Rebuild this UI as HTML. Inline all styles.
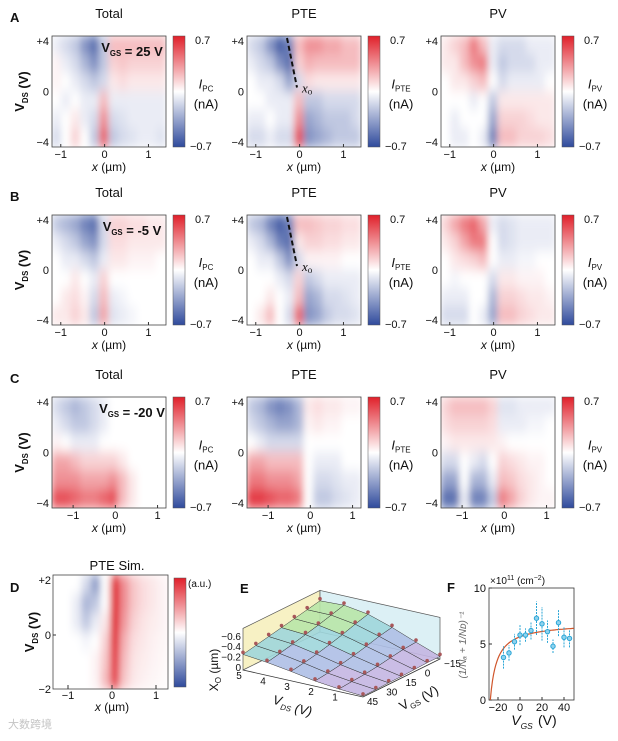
<!DOCTYPE html>
<html><head><meta charset="utf-8"><style>
body{margin:0;background:#fff;}
svg{display:block;font-family:"Liberation Sans",Arial,sans-serif;}
text{fill:#111;}
</style></head><body>
<svg id="fig" width="618" height="741" viewBox="0 0 618 741" xmlns="http://www.w3.org/2000/svg">
<defs>
<filter id="blur" x="0" y="0" width="1" height="1"><feGaussianBlur stdDeviation="3.5 6" edgeMode="duplicate"/></filter>
<linearGradient id="cbar" x1="0" y1="1" x2="0" y2="0">
<stop offset="0" stop-color="#2f4a9c"/><stop offset="0.5" stop-color="#ffffff"/><stop offset="1" stop-color="#e0202a"/></linearGradient>
</defs>
</svg>
<script>
// heatmap grids: rows from +V (top) to -V (bottom), columns left to right
const aTotal=[[-0.1,-0.2,-0.3,-0.6,-0.8,-0.3,0.3,0.3,0.3,0.3,0.3,0.3],[0.05,-0.1,-0.2,-0.4,-0.6,-0.3,0.2,0.25,0.2,0.2,0.2,0.2],[0.05,0,-0.1,-0.2,-0.3,-0.2,0.1,0.15,0.1,0.1,0.1,0.1],[0,-0.1,0,-0.1,-0.1,0.3,-0.1,-0.1,-0.1,-0.1,-0.1,-0.1],[-0.1,0,0.1,-0.1,-0.2,0.5,-0.2,-0.15,-0.1,-0.1,-0.1,-0.1],[-0.2,0,0.2,0,-0.3,0.7,-0.3,-0.2,-0.15,-0.1,-0.1,-0.15]];
const aPTE=[[-0.2,-0.3,-0.6,-0.9,-0.7,0.3,0.5,0.5,0.4,0.4,0.3,0.3],[-0.1,-0.2,-0.3,-0.6,-0.8,0.2,0.35,0.3,0.3,0.3,0.3,0.3],[0,-0.1,-0.1,-0.2,-0.5,-0.2,0.15,0.1,0.1,0.1,0.1,0.1],[0,0,-0.1,-0.1,-0.1,0.3,-0.3,-0.3,-0.2,-0.2,-0.2,-0.2],[-0.1,-0.1,0,-0.1,-0.1,0.5,-0.5,-0.4,-0.3,-0.3,-0.3,-0.2],[-0.2,-0.2,-0.1,-0.2,-0.2,0.8,-0.6,-0.5,-0.4,-0.3,-0.3,-0.3]];
const aPV=[[0.1,0.2,0.3,0.6,0.3,-0.1,-0.2,-0.2,-0.2,-0.1,-0.1,-0.1],[0.1,0.1,0.3,0.5,0.6,-0.1,-0.3,-0.2,-0.2,-0.2,-0.1,-0.1],[0,0.1,0.1,0.2,0.3,0,-0.2,-0.1,-0.1,-0.1,-0.1,0],[0,0,0,-0.1,0,-0.3,0.1,0.1,0.1,0.1,0.1,0.1],[0,-0.1,0,0,0,-0.5,0.2,0.2,0.2,0.15,0.1,0.1],[0,-0.1,-0.1,0,-0.1,-0.7,0.3,0.3,0.2,0.2,0.2,0.15]];
const bTotal=[[-0.3,-0.4,-0.5,-0.7,-0.8,-0.2,0.2,0.2,0.15,0.15,0.1,0.1],[-0.1,-0.2,-0.3,-0.5,-0.6,-0.2,0.15,0.15,0.1,0.1,0.1,0.1],[0,-0.1,-0.1,-0.2,-0.3,-0.1,0.1,0.1,0.05,0.05,0.05,0],[0,0,0.1,0,-0.1,0.2,0,0,0,0,0,0],[0,0.1,0.15,0.05,-0.2,0.3,-0.1,-0.05,0,0,0,0],[0.1,0.1,0.2,0.1,-0.3,0.4,-0.15,-0.1,-0.05,0,0,0]];
const bPTE=[[-0.3,-0.4,-0.7,-0.9,-0.7,0.3,0.3,0.25,0.2,0.2,0.15,0.15],[-0.1,-0.2,-0.4,-0.7,-0.8,0.1,0.2,0.2,0.15,0.15,0.1,0.1],[0,-0.1,-0.1,-0.3,-0.6,-0.2,0.05,0.05,0.05,0.05,0,0],[0,0,0,-0.1,-0.2,0.2,-0.3,-0.2,-0.1,-0.1,-0.1,-0.1],[0,0,0.1,0,-0.1,0.3,-0.5,-0.4,-0.2,-0.2,-0.15,-0.1],[0,0.1,0.3,0,-0.2,0.7,-0.6,-0.5,-0.3,-0.2,-0.2,-0.15]];
const bPV=[[0.2,0.4,0.6,0.7,0.4,-0.1,-0.2,-0.15,-0.1,-0.1,-0.1,-0.1],[0.1,0.2,0.4,0.6,0.6,0,-0.2,-0.15,-0.1,-0.1,-0.1,-0.1],[0,0.1,0.15,0.2,0.3,0,-0.1,-0.1,-0.05,-0.05,0,0],[0,-0.05,0,0,0,-0.2,0.1,0.1,0.05,0.05,0.05,0],[-0.1,-0.1,-0.1,0,0,-0.4,0.2,0.2,0.15,0.1,0.1,0.05],[-0.2,-0.2,-0.2,0,-0.1,-0.5,0.3,0.3,0.2,0.15,0.1,0.1]];
const cTotal=[[-0.2,-0.3,-0.4,-0.3,-0.2,-0.1,0,0,0,0,0,0],[-0.1,-0.2,-0.3,-0.3,-0.2,-0.1,0,0,0,0,0,0],[0.05,0,-0.1,-0.1,-0.1,0,0,0,0,0,0,0],[0.4,0.4,0.3,0.2,0.2,0.2,0.2,0.1,0,0,0,0],[0.5,0.5,0.5,0.4,0.4,0.4,0.5,0.3,0.1,0,0,0],[0.8,0.8,0.7,0.6,0.6,0.7,0.8,0.3,0.1,0,0,0]];
const cPTE=[[-0.3,-0.4,-0.6,-0.7,-0.6,-0.4,0.1,0.15,0.1,0.1,0.05,0.05],[-0.2,-0.3,-0.4,-0.5,-0.5,-0.4,0.05,0.1,0.05,0.05,0,0],[0,-0.1,-0.2,-0.2,-0.2,-0.2,0,0,0,0,0,0],[0.4,0.4,0.3,0.3,0.3,0.3,0,-0.1,-0.1,-0.1,0,0],[0.6,0.6,0.5,0.5,0.5,0.4,0,-0.2,-0.2,-0.15,-0.1,-0.1],[0.9,0.9,0.8,0.7,0.7,0.6,0,-0.3,-0.3,-0.2,-0.15,-0.1]];
const cPV=[[0.2,0.3,0.3,0.3,0.3,0.2,-0.15,-0.15,-0.1,-0.1,-0.1,-0.1],[0.15,0.2,0.2,0.2,0.2,0.15,-0.1,-0.1,-0.1,-0.05,-0.05,0],[0.05,0.1,0.1,0.1,0.1,0.1,0.05,0,0,0,0,0],[-0.2,-0.2,0,-0.1,-0.2,0,0.2,0.15,0.1,0.05,0.05,0],[-0.5,-0.5,0,-0.4,-0.4,-0.1,0.3,0.25,0.15,0.1,0.05,0],[-0.8,-0.8,-0.1,-0.7,-0.7,-0.3,0.6,0.4,0.2,0.1,0.05,0.05]];
const dSim=[[0,0,0,-0.2,-0.55,0,1,0.5,0.25,0.15,0.1,0.05],[0,0,-0.1,-0.4,-0.3,0,1,0.5,0.25,0.15,0.1,0.05],[0,0,-0.1,-0.3,-0.1,0.1,1,0.45,0.2,0.12,0.08,0.05],[0,0,0,-0.05,0,0.2,0.95,0.35,0.15,0.1,0.06,0.04],[0,0,0,0,0.05,0.25,0.9,0.3,0.12,0.08,0.05,0.03],[0,0,0,0,0.05,0.3,0.85,0.25,0.1,0.06,0.04,0.02]];
// panel F data
const fVgs=[-15,-10,-5,0,5,10,15,20,25,30,35,40,45];
const fDens=[3.8,4.2,5.2,5.8,5.8,6.2,7.3,6.8,6.1,4.8,6.9,5.6,5.5];
const fErr=[1.0,0.7,0.7,0.9,0.6,0.8,1.5,1.5,1.0,0.6,1.2,0.9,0.8];
const fXTicks=[-20,0,20,40];
const fYTicks=[0,5,10];
// panel E surface heights (x0, µm): rows VDS 5..0, cols VGS -15..45
const eVds=[5,4,3,2,1,0];
const eVgs=[-15,-5,5,15,25,35,45];
const eZ=[[0.6,0.55,0.5,0.45,0.4,0.35,0.3],[0.62,0.55,0.48,0.42,0.36,0.3,0.25],[0.55,0.48,0.4,0.33,0.27,0.22,0.18],[0.4,0.35,0.28,0.22,0.17,0.13,0.1],[0.22,0.2,0.16,0.12,0.09,0.07,0.05],[0.05,0.05,0.04,0.03,0.03,0.02,0.02]];

const NS='http://www.w3.org/2000/svg';
const svg=document.getElementById('fig');
function mk(tag,attrs,parent){const e=document.createElementNS(NS,tag);for(const k in attrs)e.setAttribute(k,attrs[k]);(parent||svg).appendChild(e);return e;}
function txt(x,y,s,size,anchor,parent,extra){const t=mk('text',Object.assign({x:x,y:y,'font-size':size,'text-anchor':anchor||'middle'},extra||{}),parent);t.textContent=s;return t;}
function col(v){v=Math.max(-1,Math.min(1,v));let r,g,b;if(v>=0){r=255+(224-255)*v;g=255+(32-255)*v;b=255+(42-255)*v;}else{const a=-v;r=255+(47-255)*a;g=255+(74-255)*a;b=255+(156-255)*a;}return `rgb(${r|0},${g|0},${b|0})`;}

function heatmap(name,grid,x,y,w,h){
  const g=mk('g',{});
  
  
  const clipId='c'+name;
  const cp=mk('clipPath',{id:clipId},g);mk('rect',{x:x,y:y,width:w,height:h},cp);
  const inner=mk('g',{'clip-path':`url(#${clipId})`},g);
  const bl=mk('g',{filter:'url(#blur)'},inner);
  const nr=grid.length,nc=grid[0].length;
  for(let i=0;i<nr;i++)for(let j=0;j<nc;j++){
    const r=mk('rect',{x:x+j*w/nc-0.5,y:y+i*h/nr-0.5,width:w/nc+1,height:h/nr+1,fill:col(grid[i][j])},bl);
    
    
  }
  mk('rect',{x:x,y:y,width:w,height:h,fill:'none',stroke:'#444','stroke-width':0.8},g);
  return g;
}
function sub(parent,x,y,main,subs,size,bold){
  const t=mk('text',{x:x,y:y,'font-size':size,'text-anchor':'middle','font-weight':bold?'bold':'normal'},parent);
  t.appendChild(document.createTextNode(main));
  const ts=mk('tspan',{'font-size':size*0.6,dy:size*0.3},t);ts.textContent=subs;
  return t;
}
function colorbar(name,x,y,h,lab,unit){
  const g=mk('g',{});
  
  
  mk('rect',{x:x,y:y,width:12,height:h,fill:'url(#cbar)',stroke:'#555','stroke-width':0.5},g);
  if(lab!==null){
    txt(x+22,y+8,'0.7',11,'start',g);
    txt(x+17,y+h+3,'\u22120.7',11,'start',g);
    const t=mk('text',{x:x+33,y:y+h/2-3,'font-size':13,'text-anchor':'middle'},g);
    t.appendChild(document.createTextNode('I'));t.setAttribute('font-style','italic');
    const ts=mk('tspan',{'font-size':8,dy:3,'font-style':'normal'},t);ts.textContent=lab;
    txt(x+33,y+h/2+17,unit,13,'middle',g);
  } else txt(x+14,y+9,'(a.u.)',10,'start',g);
}
const rows=[{y:36,h:111,letter:'A',grids:[aTotal,aPTE,aPV],vgs:'25 V',xt:[-1,0,1]},{y:215,h:110,letter:'B',grids:[bTotal,bPTE,bPV],vgs:'-5 V',xt:[-1,0,1]},{y:397,h:111,letter:'C',grids:[cTotal,cPTE,cPV],vgs:'-20 V',xt:[-1,0,1]}];
const cols=[{x:52,t:'Total',l:'PC'},{x:247,t:'PTE',l:'PTE'},{x:441,t:'PV',l:'PV'}];
const xMin=[-1.2,-1.5],xMax=[1.4,1.2];
rows.forEach((r,ri)=>{
  txt(10,r.y-14,r.letter,13,'start',null,{'font-weight':'bold'});
  cols.forEach((c,ci)=>{
    const w=114;
    txt(c.x+w/2,r.y-18,c.t,13);
    heatmap(`heatmap-${r.letter.toLowerCase()}-${c.t.toLowerCase()}`,r.grids[ci],c.x,r.y,w,r.h);
    colorbar(`colorbar-${r.letter.toLowerCase()}-${c.t.toLowerCase()}`,c.x+w+7,r.y,r.h,c.l,'(nA)');
    const lo=ri==2?xMin[1]:xMin[0],hi=ri==2?xMax[1]:xMax[0];
    const sx=v=>c.x+(v-lo)/(hi-lo)*w;
    r.xt.forEach(v=>{mk('line',{x1:sx(v),x2:sx(v),y1:r.y+r.h,y2:r.y+r.h-3,stroke:'#333'});txt(sx(v),r.y+r.h+11,v<0?'\u2212'+(-v):String(v),11);});
    const sy=v=>r.y+r.h/2-v/4.4*(r.h/2);
    [4,0,-4].forEach(v=>{txt(c.x-3,sy(v)+4,v>0?'+4':(v<0?'\u22124':'0'),11,'end');});
    const xl=mk('text',{x:c.x+w/2,y:r.y+r.h+24,'font-size':12,'text-anchor':'middle'});
    const xi=mk('tspan',{'font-style':'italic'},xl);xi.textContent='x';xl.appendChild(document.createTextNode(' (\u00b5m)'));
    if(ci==0){
      const g=mk('g',{transform:`translate(24,${r.y+r.h/2}) rotate(-90)`});
      const t=sub(g,0,0,'V','DS',13,true);t.appendChild(document.createTextNode(' (V)'));
      const lab=sub(svg,c.x+80,r.y+16,'V','GS',13,true);lab.appendChild(document.createTextNode(' = '+r.vgs));
    }
    if(ci==1&&ri<2){
      mk('line',{x1:c.x+40,y1:r.y+2,x2:c.x+50,y2:r.y+r.h/2-4,stroke:'#111','stroke-width':2,'stroke-dasharray':'5 3'});
      const t=mk('text',{x:c.x+55,y:r.y+r.h/2+1,'font-size':13,'font-family':'Liberation Serif','font-style':'italic'});t.textContent='x';
      const s=mk('tspan',{'font-size':9,dy:2,'font-style':'normal'},t);s.textContent='o';
    }
  });
});
// Panel D
txt(10,592,'D',13,'start',null,{'font-weight':'bold'});
txt(117,570,'PTE Sim.',13);
heatmap('heatmap-d-sim',dSim,53,575,115,114);
colorbar('colorbar-d',174,578,109,null);
{const sx=v=>112+v*44;[-1,0,1].forEach(v=>{mk('line',{x1:sx(v),x2:sx(v),y1:689,y2:685,stroke:'#333'});txt(sx(v),699,v<0?'\u22121':String(v),11);});
txt(51,584,'+2',11,'end');txt(51,639,'0',11,'end');txt(51,693,'\u22122',11,'end');
mk('line',{x1:53,x2:56,y1:635,y2:635,stroke:'#333'});
const xl=mk('text',{x:112,y:711,'font-size':12,'text-anchor':'middle'});const xi=mk('tspan',{'font-style':'italic'},xl);xi.textContent='x';xl.appendChild(document.createTextNode(' (\u00b5m)'));
const g=mk('g',{transform:'translate(34,632) rotate(-90)'});const t=sub(g,0,0,'V','DS',13,true);t.appendChild(document.createTextNode(' (V)'));}
// Panel E
txt(240,593,'E',13,'start',null,{'font-weight':'bold'});
{const ge=mk('g',{});
 const P=(vds,vgs,z)=>{const a=(5-vds)/5,b=(45-vgs)/60;return [243+a*120+b*77,670+a*27-b*38-z*52];};
 const f=p=>p[0].toFixed(1)+','+p[1].toFixed(1);
 mk('polygon',{points:`${f(P(5,45,0))} ${f(P(5,-15,0))} ${f(P(5,-15,0.8))} ${f(P(5,45,0.8))}`,fill:'#f7f1c4',stroke:'#555','stroke-width':0.7},ge);
 mk('polygon',{points:`${f(P(5,-15,0))} ${f(P(0,-15,0))} ${f(P(0,-15,0.8))} ${f(P(5,-15,0.8))}`,fill:'#dcf0f5',stroke:'#555','stroke-width':0.7},ge);
 mk('polyline',{points:`${f(P(5,45,0))} ${f(P(0,45,0))} ${f(P(0,-15,0))}`,fill:'none',stroke:'#333','stroke-width':0.8},ge);
 const zc=z=>{const s=[[0,'#c4b6e2'],[0.15,'#aebfe6'],[0.3,'#9fd6dc'],[0.45,'#b8e6a8'],[0.6,'#f5eaa0']];for(let k=s.length-1;k>=0;k--)if(z>=s[k][0])return s[k][1];return s[0][1];};
 for(let j=eVgs.length-2;j>=0;j--)for(let i=0;i<eVds.length-1;i++){
   const pts=[P(eVds[i],eVgs[j],eZ[i][j]),P(eVds[i+1],eVgs[j],eZ[i+1][j]),P(eVds[i+1],eVgs[j+1],eZ[i+1][j+1]),P(eVds[i],eVgs[j+1],eZ[i][j+1])];
   const zm=(eZ[i][j]+eZ[i+1][j]+eZ[i+1][j+1]+eZ[i][j+1])/4;
   const q=mk('polygon',{points:pts.map(f).join(' '),fill:zc(zm),'fill-opacity':0.9,stroke:'#333','stroke-width':0.5},ge);
   
 }
 for(let i=0;i<eVds.length;i++)for(let j=0;j<eVgs.length;j++){const p=P(eVds[i],eVgs[j],eZ[i][j]+0.04);const c=mk('circle',{cx:p[0],cy:p[1],r:1.8,fill:'#a8575a'},ge);}
 [0,-0.2,-0.4,-0.6].forEach(v=>txt(241,668-(-v)*52+3,v==0?'0':String(v).replace('-','\u2212'),10,'end',ge));
 [5,4,3,2,1].forEach(v=>{const p=P(v,45,0);txt(p[0]-4,p[1]+9,String(v),10,'middle',ge);});
 [45,30,15,0,-15].forEach(v=>{const p=P(0,v,0);txt(p[0]+4,p[1]+8,String(v).replace('-','\u2212'),10,'start',ge);});
 const g1=mk('g',{transform:'translate(218,670) rotate(-90)'},ge);const t1=mk('text',{x:0,y:0,'font-size':12,'text-anchor':'middle'},g1);t1.textContent='X';const s1=mk('tspan',{'font-size':8,dy:3},t1);s1.textContent='O';const s2=mk('tspan',{dy:-3},t1);s2.textContent=' (\u00b5m)';
 const g2=mk('g',{transform:'translate(292,708) rotate(12)'},ge);const t2=sub(g2,0,0,'V','DS',13,false);t2.setAttribute('font-style','italic');t2.appendChild(document.createTextNode(' (V)'));
 const g3=mk('g',{transform:'translate(420,700) rotate(-32)'},ge);const t3=sub(g3,0,0,'V','GS',13,false);t3.appendChild(document.createTextNode(' (V)'));
}
// Panel F
txt(447,592,'F',13,'start',null,{'font-weight':'bold'});
{const gf=mk('g',{});
 const L=489,R=574,T=588,B=700;const sx=v=>520+v*1.1;const sy=v=>B-v/10*(B-T);
 mk('rect',{x:L,y:T,width:R-L,height:B-T,fill:'none',stroke:'#333','stroke-width':0.8},gf);
 fXTicks.forEach(v=>{mk('line',{x1:sx(v),x2:sx(v),y1:B,y2:B-3,stroke:'#333'},gf);txt(sx(v),B+11,v<0?'\u2212'+(-v):String(v),11,'middle',gf);});
 fYTicks.forEach(v=>{mk('line',{x1:L,x2:L+3,y1:sy(v),y2:sy(v),stroke:'#333'},gf);txt(L-3,sy(v)+4,String(v),11,'end',gf);});
 let d='';for(let x=-27;x<=49;x+=1){const y=6.9*(x+27)/(x+33);d+=(x==-27?'M':'L')+sx(x).toFixed(1)+','+sy(y).toFixed(1);}
 mk('path',{d:d,fill:'none',stroke:'#d0562c','stroke-width':1.2},gf);
 fVgs.forEach((v,i)=>{mk('line',{x1:sx(v),x2:sx(v),y1:sy(fDens[i]-fErr[i]),y2:sy(fDens[i]+fErr[i]),stroke:'#2aa6d6','stroke-dasharray':'2 1'},gf);
  const c=mk('circle',{cx:sx(v),cy:sy(fDens[i]),r:2.2,fill:'#8fd2ee',stroke:'#2aa6d6'},gf);});
 const tt=mk('text',{x:490,y:584,'font-size':10},gf);tt.textContent='\u00d710';const s=mk('tspan',{'font-size':7,dy:-4},tt);s.textContent='11';const s2=mk('tspan',{dy:4,'font-size':10},tt);s2.textContent=' (cm';const s3=mk('tspan',{'font-size':7,dy:-4},tt);s3.textContent='\u22122';const s4=mk('tspan',{dy:4,'font-size':10},tt);s4.textContent=')';
 const g=mk('g',{transform:'translate(466,645) rotate(-90)'},gf);txt(0,0,'(1/N\u2090 + 1/N\u1d05)\u207b\u00b9',10,'middle',g,{'font-style':'italic','style':'fill:#666'});
 const vl=sub(gf,522,725,'V','GS',14,false);vl.setAttribute('font-style','italic');
 txt(538,725,'(V)',14,'start',gf);
}
txt(8,728,'\u5927\u6570\u8de8\u5883',11,'start',null,{'style':'fill:#c4c4c4','font-family':'Noto Sans CJK SC, sans-serif'});
</script>
</body></html>
